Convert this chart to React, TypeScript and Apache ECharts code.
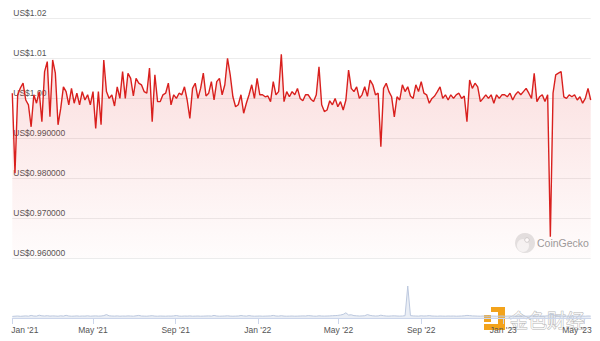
import React, { useEffect, useRef } from 'react';
import * as echarts from 'echarts';

const START_DATE = '2021-01-01';
const STEP_DAYS = 4;

// USDC price, one value every STEP_DAYS days from START_DATE
const priceValues = [
  1.0012, 0.9812, 1.0008, 1.0025, 1.0037, 0.9995, 0.9983, 0.9928, 1.0008, 0.9987, 1.0016, 0.9941,
  1.0066, 1.0091, 0.9953, 1.0095, 1.0062, 0.9933, 0.9974, 1.0028, 1.0016, 0.9983, 1.0024, 0.9987,
  1.0012, 0.9983, 1.0016, 0.9995, 1.0008, 0.9983, 1.0016, 0.9924, 1.0016, 0.9933, 1.0095, 1.0016,
  0.9999, 1.0008, 0.998, 1.0028, 0.9999, 1.0066, 0.9999, 1.0062, 1.0049, 1.0005, 1.0049, 1.0037,
  1.0033, 1.0016, 1.0012, 1.0075, 0.9941, 1.0058, 0.9991, 0.9991, 1.0008, 1.0012, 1.0037, 0.9983,
  1.0008, 0.9999, 1.0012, 1.0008, 1.0028, 0.9995, 0.9949, 1.0024, 1.0037, 0.9999, 1.0024, 1.0062,
  1.0005, 1.0012, 1.0041, 0.9995, 1.0041, 1.0049, 1.0008, 1.0033, 1.0099, 1.0058, 1.0003, 0.9978,
  0.9983, 1.0008, 0.9962, 0.9987, 1.0008, 1.0033, 0.9999, 1.0049, 1.0008, 1.0008, 1.0003, 1.0005,
  0.9991, 1.0041, 1.0008, 1.0016, 1.0109, 0.9991, 1.0016, 1.0003, 1.0016, 1.0008, 1.0024, 0.9999,
  0.9993, 1.0008, 1.0008, 0.9997, 0.9991, 1.0008, 1.0078, 0.9983, 0.9966, 0.997, 0.9993, 0.9983,
  0.9999, 0.9978, 0.9991, 0.997, 0.9995, 1.007, 1.0024, 1.0016, 1.0028, 0.9999, 1.0008, 1.0028,
  1.0004, 1.0045, 1.0033, 1.0008, 1.0012, 0.9878, 1.0024, 1.0037, 1.0016, 1.0003, 0.9953, 1.0003,
  0.9995, 1.0033, 1.0016, 1.0028, 1.0005, 0.9999, 1.0033, 1.0016, 1.0041, 1.0012, 1.0008, 0.9987,
  0.9999, 1.0005, 1.0016, 1.0028, 0.9999, 1.0008, 0.9995, 1.0008, 0.9999, 1.0008, 1.0012, 0.9999,
  1.0005, 0.9941, 1.0045, 1.0024, 1.0037, 1.0028, 0.9991, 0.9999, 1.0008, 0.9999, 1.0008, 0.9987,
  1.0008, 0.9999, 1.0008, 1.0008, 1.0003, 1.0012, 0.9995, 1.0008, 1.0016, 1.0008, 1.0016, 1.0024,
  1.0012, 0.9999, 1.0062, 0.9991, 1.0003, 1.0008, 0.9991, 1.0008, 0.9653, 1.0012, 1.0058, 1.0062,
  1.0066, 1.0003, 0.9999, 1.0008, 1.0003, 1.0008, 0.9995, 1.0003, 0.9987, 0.9999, 1.0024, 0.9995,
];

// trading volume (relative units), same dates
const volumeValues = [
  1.6, 1.8, 2.0, 1.7, 1.9, 2.1, 1.8, 2.6, 2.0, 1.9, 2.8, 2.2,
  2.0, 2.3, 1.9, 2.1, 2.0, 1.8, 2.2, 1.9, 2.7, 2.0, 1.8, 1.9,
  2.1, 1.8, 2.0, 1.9, 2.2, 1.8, 2.0, 2.1, 1.9, 2.0, 2.4, 3.4,
  2.2, 2.0, 1.9, 2.1, 1.8, 2.0, 1.9, 2.1, 2.0, 1.8, 2.2, 2.6,
  2.0, 1.9, 1.8, 2.1, 2.3, 1.9, 1.8, 2.0, 1.9, 1.8, 2.0, 1.9,
  2.1, 2.5, 1.9, 1.8, 2.0, 1.9, 2.1, 1.8, 1.9, 2.0, 1.8, 1.9,
  2.0, 2.1, 1.9, 2.6, 2.0, 1.8, 1.9, 2.0, 2.2, 1.9, 1.8, 1.9,
  2.0, 2.5, 2.1, 1.9, 2.4, 2.0, 1.8, 1.9, 2.0, 1.8, 1.9, 2.0,
  2.1, 2.6, 2.0, 1.9, 2.3, 1.9, 1.8, 1.9, 2.0, 1.8, 1.9, 2.0,
  2.1, 2.0, 2.4, 2.2, 1.9, 1.8, 2.2, 2.0, 1.9, 2.0, 2.1, 2.3,
  2.4, 2.6, 3.0, 3.6, 5.2, 3.0, 3.2, 2.4, 2.2, 2.0, 2.1, 2.3,
  3.4, 2.6, 2.2, 2.0, 2.1, 2.8, 2.3, 2.0, 1.9, 2.1, 2.2, 2.0,
  1.9, 2.0, 2.3, 32, 2.4, 2.1, 2.0, 1.9, 2.2, 2.0, 2.1, 2.4,
  2.0, 1.9, 1.8, 2.0, 1.9, 1.8, 2.0, 1.9, 2.0, 1.8, 1.9, 2.0,
  2.2, 2.6, 2.4, 2.1, 2.0, 1.9, 1.8, 2.0, 1.9, 1.8, 2.0, 1.9,
  1.8, 1.9, 2.0, 1.8, 1.9, 2.0, 1.8, 1.9, 2.0, 2.1, 1.9, 1.8,
  1.9, 2.0, 2.3, 1.9, 1.8, 2.0, 1.9, 2.2, 4.5, 3.2, 2.4, 2.2,
  2.1, 2.0, 1.9, 1.8, 2.0, 1.9, 1.8, 2.0, 1.9, 1.8, 2.0, 1.9,
];

const xTickDates = ['2021-01-01', '2021-05-01', '2021-09-01', '2022-01-01', '2022-05-01', '2022-09-01', '2023-01-01', '2023-05-01'];
const xTickLabels = ["Jan '21", "May '21", "Sep '21", "Jan '22", "May '22", "Sep '22", "Jan '23", "May '23"];

const yTicks = [0.96, 0.97, 0.98, 0.99, 1.0, 1.01, 1.02];
const yTickLabels = ['US$0.960000', 'US$0.970000', 'US$0.980000', 'US$0.990000', 'US$1.00', 'US$1.01', 'US$1.02'];

const DAY = 86400000;
const toTs = (s: string) => Date.parse(s + 'T00:00:00Z');

const FONT = "'Liberation Sans', Arial, sans-serif";

export default function App() {
  const ref = useRef<HTMLDivElement>(null);

  useEffect(() => {
    if (!ref.current) return;
    const chart = echarts.init(ref.current, undefined, { renderer: 'svg' });
    const startTs = toTs(START_DATE);
    const dates = priceValues.map((_, i) => startTs + i * STEP_DAYS * DAY);
    const xMin = startTs;
    const xMax = dates[dates.length - 1];
    const tickTimes = xTickDates.map(toTs);

    const xFormatter = (value: number) => {
      let best = 0;
      let bd = Infinity;
      tickTimes.forEach((t, i) => {
        const d = Math.abs(t - value);
        if (d < bd) { bd = d; best = i; }
      });
      const label = xTickLabels[best];
      if (best === 0) return '{first|' + label + '}';
      if (best === tickTimes.length - 1) return '{last|' + label + '}';
      return label;
    };

    const yFormatter = (value: number) => {
      let best = 0;
      let bd = Infinity;
      yTicks.forEach((t, i) => {
        const d = Math.abs(t - value);
        if (d < bd) { bd = d; best = i; }
      });
      return yTickLabels[best];
    };

    const labelStyle = { color: '#555555', fontSize: 8.5, fontFamily: FONT };

    const option: any = {
      animation: false,
      grid: [
        { left: 12.3, right: 9.3, top: 18, height: 240, containLabel: false, outerBoundsMode: 'none' },
        { left: 12.3, right: 9.3, top: 280, height: 38, containLabel: false, outerBoundsMode: 'none' },
      ],
      xAxis: [
        { type: 'value', gridIndex: 0, min: xMin, max: xMax, show: false, splitLine: { show: false } },
        {
          type: 'value', gridIndex: 1, min: xMin, max: xMax,
          axisLine: { show: true, lineStyle: { color: '#ccd6eb', width: 1 } },
          axisTick: { show: true, customValues: tickTimes, length: 6, lineStyle: { color: '#ccd6eb' } },
          axisLabel: {
            customValues: tickTimes,
            formatter: xFormatter,
            margin: 7,
            ...labelStyle,
            rich: {
              first: { ...labelStyle, padding: [0, 0, 0, 25] },
              last: { ...labelStyle, padding: [0, 14, 0, 0] },
            },
          },
          splitLine: { show: false },
        },
      ],
      yAxis: [
        {
          type: 'value', gridIndex: 0, min: 0.96, max: 1.02, interval: 0.01,
          axisLine: { show: false }, axisTick: { show: false },
          splitLine: { show: true, lineStyle: { color: '#ececec', width: 1 } },
          axisLabel: {
            inside: true, margin: 1, verticalAlign: 'bottom', lineHeight: 11,
            formatter: yFormatter, ...labelStyle,
          },
        },
        { type: 'value', gridIndex: 1, min: 0, max: 38, show: false },
      ],
      series: [
        {
          type: 'line', xAxisIndex: 0, yAxisIndex: 0,
          data: dates.map((d, i) => [d, priceValues[i]]),
          showSymbol: false, symbol: 'none',
          lineStyle: { color: '#d9201e', width: 1.4 },
          itemStyle: { color: '#d9201e' },
          areaStyle: {
            color: {
              type: 'linear', x: 0, y: 0, x2: 0, y2: 1,
              colorStops: [
                { offset: 0, color: 'rgba(226,40,40,0.22)' },
                { offset: 1, color: 'rgba(226,40,40,0.02)' },
              ],
            },
          },
          z: 3,
        },
        {
          type: 'line', xAxisIndex: 1, yAxisIndex: 1,
          data: dates.map((d, i) => [d, volumeValues[i]]),
          showSymbol: false, symbol: 'none',
          lineStyle: { color: '#bcc8de', width: 1 },
          areaStyle: { color: 'rgba(188,200,222,0.45)' },
        },
      ],
      graphic: [
        {
          type: 'group', z: 100,
          children: [
            { type: 'circle', shape: { cx: 525, cy: 243, r: 10 }, style: { fill: '#e3e3e3' } },
            { type: 'ellipse', shape: { cx: 523, cy: 245.5, rx: 6, ry: 6.5 }, style: { fill: '#f6f6f6' } },
            { type: 'circle', shape: { cx: 527, cy: 240, r: 2.3 }, style: { fill: '#ffffff', stroke: '#c8c8c8', lineWidth: 0.8 } },
            {
              type: 'text', x: 537, y: 243,
              style: { text: 'CoinGecko', fill: '#9b9b9b', fontSize: 10.5, fontFamily: "'Liberation Sans', Arial, sans-serif", verticalAlign: 'middle', align: 'left' },
            },
          ],
        },
        {
          type: 'group', z: 101,
          children: [
            { type: 'rect', shape: { x: 491, y: 307, width: 14, height: 5 }, style: { fill: '#f3a31b' } },
            { type: 'rect', shape: { x: 498, y: 307, width: 7, height: 23 }, style: { fill: '#f3a31b' } },
            { type: 'rect', shape: { x: 484, y: 324, width: 21, height: 6 }, style: { fill: '#f3a31b' } },
            { type: 'rect', shape: { x: 484, y: 315, width: 7, height: 7 }, style: { fill: '#f3a31b' } },
            {
              type: 'text', x: 509, y: 319,
              style: {
                text: '金色财经', fill: 'rgba(255,255,255,0.9)', stroke: '#b8b8b8', lineWidth: 1,
                fontSize: 19, fontFamily: "'Noto Sans CJK SC', sans-serif", verticalAlign: 'middle', align: 'left',
              },
            },
          ],
        },
      ],
    };

    chart.setOption(option);
    return () => chart.dispose();
  }, []);

  return (
    <div
      ref={ref}
      style={{ position: 'fixed', left: 0, top: 0, width: 600, height: 341, background: '#ffffff' }}
    />
  );
}
